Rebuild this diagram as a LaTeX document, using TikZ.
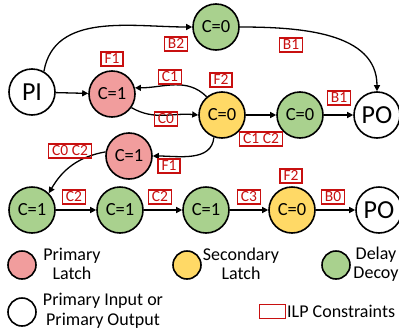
\documentclass[tikz,border=0pt]{standalone}
\usepackage{fontspec}
\setmainfont{Carlito}
\usetikzlibrary{arrows.meta}
\definecolor{latchpink}{RGB}{241,157,157}
\definecolor{latchyellow}{RGB}{255,217,102}
\definecolor{decoygreen}{RGB}{169,209,142}
\definecolor{ilpred}{RGB}{200,16,16}
\tikzset{
  state/.style={circle,draw=black,line width=1.6pt,minimum size=46pt,inner sep=0pt,font=\fontsize{18.5}{18.5}\selectfont},
  io/.style={state,fill=white,font=\fontsize{26}{26}\selectfont},
  prim/.style={state,fill=latchpink},
  sec/.style={state,fill=latchyellow},
  decoy/.style={state,fill=decoygreen},
  ilp/.style={draw=ilpred,line width=1.5pt,text=ilpred,inner xsep=3.5pt,inner ysep=1.8pt,
    font=\fontsize{15.5}{15.5}\selectfont,text height=10pt,text depth=0.5pt},
  flow/.style={line width=1.3pt,-{Triangle[length=6pt,width=6pt]}},
  legdot/.style={circle,draw=black,line width=1.6pt,minimum size=28pt,inner sep=0pt},
  legtxt/.style={font=\fontsize{18}{19.5}\selectfont,align=center,inner sep=0pt},
}
\begin{document}
\begin{tikzpicture}[x=1pt,y=-1pt]
\useasboundingbox (0,0) rectangle (399,335);
% top part
\node[io]    (pi)  at (32,92)  {PI};
\node[prim]  (p1)  at (112,94) {C=1};
\node[decoy] (g0)  at (216,27) {C=0};
\node[sec]   (y1)  at (222,115) {C=0};
\node[decoy] (g1)  at (300,115) {C=0};
\node[io]    (po1) at (377,115) {PO};
\node[prim]  (p2)  at (129,156) {C=1};
% bottom chain
\node[decoy] (g2)  at (32,210)  {C=1};
\node[decoy] (g3)  at (120,210) {C=1};
\node[decoy] (g4)  at (206,210) {C=1};
\node[sec]   (y2)  at (292,210) {C=0};
\node[io]    (po2) at (379,210) {PO};

% connectors
\draw[flow] (pi) -- (p1);
\draw[flow] (pi.60) to[out=80,in=180] (g0.west);
\draw[flow] (g0.east) to[out=0,in=90] (po1.north);
\draw[flow] (p1.-35) to[out=-30,in=175] (y1.west);
\draw[flow] (y1.130) to[out=135,in=0] (p1.15);
\draw[flow] (y1) -- (g1);
\draw[flow] (g1) -- (po1);
\draw[flow] (y1.-110) to[out=-95,in=0] (p2.east);
\draw[flow] (p2.170) to[out=190,in=60] (g2.north east);
\draw[flow] (g2) -- (g3);
\draw[flow] (g3) -- (g4);
\draw[flow] (g4) -- (y2);
\draw[flow] (y2) -- (po2);

% ILP constraint tags
\node[ilp] (lb2)  at (176,44)  {B2};
\node[ilp] (lb1a) at (291,45)  {B1};
\node[ilp] (lf1a) at (112,59)  {F1};
\node[ilp] (lc1)  at (170,77)  {C1};
\node[ilp] (lc0)  at (166,119) {C0};
\node[ilp] (lf2a) at (221,80)  {F2};
\node[ilp] (lb1b) at (339,98)  {B1};
\node[ilp] (lc12) at (261,139) {C1 C2};
\node[ilp] (lc02) at (70,151)  {C0 C2};
\node[ilp] (lf1b) at (169,166) {F1};
\node[ilp] (lc2a) at (74,197)  {C2};
\node[ilp] (lc2b) at (160,197) {C2};
\node[ilp] (lc3)  at (249,197) {C3};
\node[ilp] (lf2b) at (291,176) {F2};
\node[ilp] (lb0)  at (333,197) {B0};

% legend
\node[legdot,fill=latchpink]   (kp) at (22,265) {};
\node[legtxt] (kpt) at (72,264) {Primary\\Latch};
\node[legdot,fill=latchyellow] (ky) at (187,265) {};
\node[legtxt] (kyt) at (241,264) {Secondary\\Latch};
\node[legdot,fill=decoygreen]  (kg) at (336,265) {};
\node[legtxt] (kgt) at (376,264) {Delay\\Decoy};
\node[legdot,fill=white]       (kw) at (22,312) {};
\node[legtxt] (kwt) at (103,311) {Primary Input or\\Primary Output};
\node[draw=ilpred,line width=1.5pt,minimum width=26pt,minimum height=14pt,inner sep=0pt] (kr) at (272.5,311.5) {};
\node[legtxt,anchor=west] (krt) at (287,311) {ILP Constraints};
\end{tikzpicture}
\end{document}
